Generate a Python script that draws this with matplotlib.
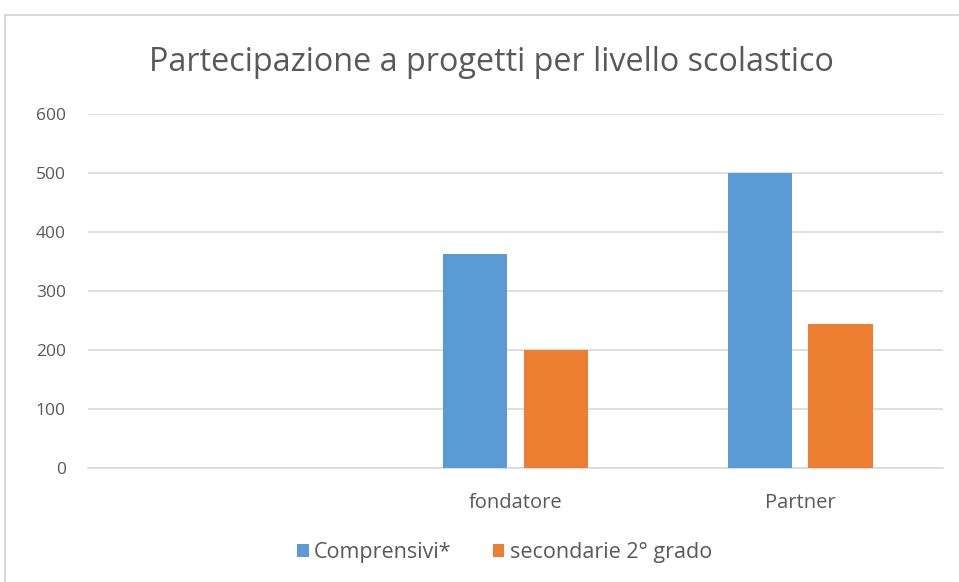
import numpy as np
import matplotlib.pyplot as plt
from matplotlib.patches import Rectangle

# --- dati ---
categorie = ['', 'fondatore', 'Partner']
comprensivi = [0, 363, 500]
secondarie = [0, 200, 244]
serie_nomi = ['Comprensivi*', 'secondarie 2° grado']

COL_BLU = '#5B9BD5'
COL_ARANCIO = '#ED7D31'
COL_TESTO = '#595959'
COL_GRID = '#D9D9D9'

plt.rcParams['font.family'] = ['Open Sans', 'DejaVu Sans']

fig = plt.figure(figsize=(9.59, 5.82), dpi=100)
ax = fig.add_axes([0.0918, 0.196, 0.891, 0.608])

x = np.arange(len(categorie))
w = 0.225
off = 0.142
ax.bar(x - off, comprensivi, w, color=COL_BLU, label=serie_nomi[0], zorder=3)
ax.bar(x + off, secondarie, w, color=COL_ARANCIO, label=serie_nomi[1], zorder=3)

ax.set_xlim(-0.5, len(categorie) - 0.5)
ax.set_ylim(0, 600)
ax.set_yticks(range(0, 601, 100))
ax.set_xticks(x)
ax.set_xticklabels(categorie)
ax.grid(axis='y', color=COL_GRID, linewidth=1.2, zorder=0)
for s in ['top', 'right', 'left']:
    ax.spines[s].set_visible(False)
ax.spines['bottom'].set_color(COL_GRID)
ax.spines['bottom'].set_linewidth(1.2)
ax.tick_params(axis='both', length=0, colors=COL_TESTO)
ax.tick_params(axis='y', pad=16, labelsize=12.5)
ax.tick_params(axis='x', pad=18, labelsize=14.5)

fig.text(0.512, 0.893, 'Partecipazione a progetti per livello scolastico',
         ha='center', va='center', fontsize=23.3, color=COL_TESTO)

leg = fig.legend(loc='center', bbox_to_anchor=(0.526, 0.051), ncol=2, frameon=False,
                 fontsize=15.5, handlelength=0.55, handleheight=0.55, handletextpad=0.25,
                 columnspacing=1.9, labelcolor=COL_TESTO)

# bordo del grafico
fig.patches.append(Rectangle((5 / 959, -0.1), 1.2, 1.1 - 15 / 582,
                             transform=fig.transFigure, fill=False,
                             edgecolor='#D9D9D9', linewidth=1.5))

fig.savefig('out.png', dpi=100)
